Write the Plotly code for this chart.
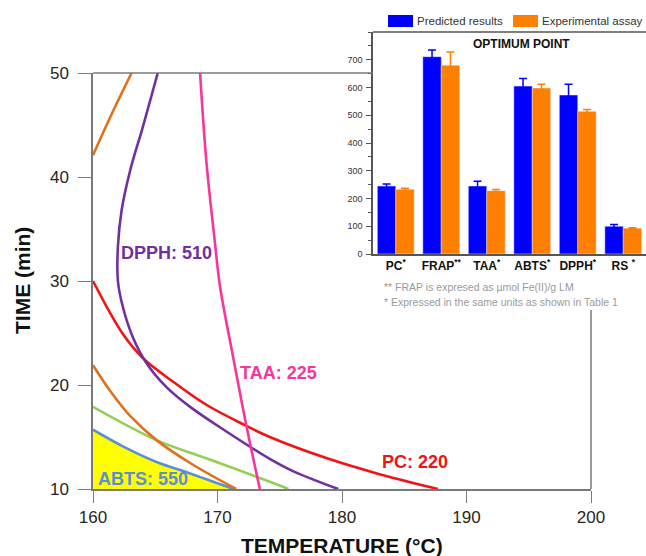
import plotly.graph_objects as go

W, H = 646, 556

# ---------------- main chart data (temperature °C, time min) ----------------
PC_T = [160.0, 162.4, 164.0, 166.45, 169.1, 172.1, 174.2, 178.8, 182.8, 187.7]
PC_t = [30.0, 24.9, 22.6, 20.3, 18.1, 16.2, 15.0, 12.95, 11.5, 10.0]

DPPH_T = [165.2, 164.0, 163.0, 162.3, 162.0, 162.0, 162.4, 163.2, 164.3, 165.9, 167.8, 170.5, 174.2, 176.1, 179.7]
DPPH_t = [50.0, 44.8, 40.7, 36.8, 33.3, 30.0, 27.5, 24.6, 22.1, 19.8, 17.9, 15.7, 12.9, 11.7, 10.0]

TAA_T = [168.6, 169.1, 169.8, 170.2, 171.3, 172.3, 173.4]
TAA_t = [50.0, 41.6, 33.6, 29.5, 22.4, 16.2, 10.0]

FRAP_UP_T = [160.0, 161.4, 163.1]
FRAP_UP_t = [42.1, 45.8, 50.0]
FRAP_LO_T = [160.0, 161.4, 163.0, 165.1, 167.8, 171.5]
FRAP_LO_t = [21.9, 19.4, 17.0, 14.7, 12.5, 10.0]

DNS_T = [160.0, 165.1, 169.1, 174.2, 175.7]
DNS_t = [17.9, 14.7, 12.95, 10.7, 10.0]

ABTS_T = [160.0, 162.4, 165.1, 167.8, 171.3]
ABTS_t = [15.7, 14.1, 12.6, 11.5, 10.0]

X_TICKS = [160, 170, 180, 190, 200]
Y_TICKS = [10, 20, 30, 40, 50]

# ---------------- inset data ----------------
CATS = ["PC", "FRAP", "TAA", "ABTS", "DPPH", "RS"]
CAT_LABELS = ["PC<sup>*</sup>", "FRAP<sup>**</sup>", "TAA<sup>*</sup>",
              "ABTS<sup>*</sup>", "DPPH<sup>*</sup>", "RS <sup>*</sup>"]
PRED = [245, 711, 245, 605, 573, 100]
PRED_ERR = [7, 24, 17, 27, 39, 6]
EXPT = [233, 680, 228, 598, 514, 93]
EXPT_ERR = [4, 48, 4, 14, 7, 2]

C_PC = "#f01414"
C_DPPH = "#7030a0"
C_TAA = "#f5379b"
C_FRAP = "#e0701a"
C_DNS = "#92cf52"
C_ABTS = "#5b8fd4"
C_BLUE = "#0000ff"
C_ORANGE = "#ff8000"
AX = "#7a7a7a"
FONT = "Liberation Sans, Arial, sans-serif"

fig = go.Figure()

def curve(x, y, color, **kw):
    fig.add_trace(go.Scatter(x=x, y=y, mode="lines",
                             line=dict(color=color, width=2.6, shape="spline", smoothing=1.0),
                             hoverinfo="skip", showlegend=False, xaxis="x", yaxis="y", **kw))

curve(ABTS_T, ABTS_t, C_ABTS, fill="tozeroy", fillcolor="#ffff00")
curve(DNS_T, DNS_t, C_DNS)
curve(FRAP_LO_T, FRAP_LO_t, C_FRAP)
curve(FRAP_UP_T, FRAP_UP_t, C_FRAP)
curve(PC_T, PC_t, C_PC)
curve(DPPH_T, DPPH_t, C_DPPH)
curve(TAA_T, TAA_t, C_TAA)

# inset bars
fig.add_trace(go.Bar(x=CATS, y=PRED, name="Predicted results", marker_color=C_BLUE,
                     error_y=dict(type="data", array=PRED_ERR, color=C_BLUE, thickness=1.5, width=4),
                     xaxis="x2", yaxis="y2", showlegend=False))
fig.add_trace(go.Bar(x=CATS, y=EXPT, name="Experimental assay", marker_color=C_ORANGE,
                     error_y=dict(type="data", array=EXPT_ERR, color=C_ORANGE, thickness=1.5, width=4),
                     xaxis="x2", yaxis="y2", showlegend=False))

xd = [93 / W, 591 / W]
yd = [(H - 489) / H, (H - 73) / H]

fig.update_layout(
    width=W, height=H,
    margin=dict(l=0, r=0, t=0, b=0),
    paper_bgcolor="white", plot_bgcolor="rgba(0,0,0,0)",
    font=dict(family=FONT, color="#262626"),
    barmode="group", bargap=0.19, bargroupgap=0,
    showlegend=False,
    xaxis=dict(domain=xd, range=[160, 200], tickvals=X_TICKS, ticks="outside", ticklen=12,
               tickcolor=AX, tickwidth=1.3, showline=True, linecolor=AX, linewidth=1.5,
               showgrid=False, zeroline=False, tickfont=dict(size=17, color="#262626"),
               automargin=False, anchor="y"),
    yaxis=dict(domain=yd, range=[10, 50], tickvals=Y_TICKS, ticks="outside", ticklen=13,
               tickcolor=AX, tickwidth=1.3, showline=True, linecolor=AX, linewidth=1.5,
               showgrid=False, zeroline=False, tickfont=dict(size=17, color="#262626"),
               automargin=False, anchor="x", ticklabelstandoff=6),
    xaxis2=dict(domain=[373 / W, 1.0], range=[-0.5, 5.5], anchor="y2", type="category",
                tickvals=CATS, ticktext=CAT_LABELS, ticks="", showline=True, linecolor="#555",
                linewidth=1.5, showgrid=False, zeroline=False,
                tickfont=dict(size=12, color="#111", family=FONT, weight="bold"),
                automargin=False, ticklabelstandoff=0),
    yaxis2=dict(domain=[(H - 254) / H, (H - 32) / H], range=[0, 800], anchor="x2",
                tickvals=[0, 100, 200, 300, 400, 500, 600, 700], ticks="outside", ticklen=5,
                tickcolor="#555", showline=True, linecolor="#555", linewidth=1.5,
                showgrid=False, zeroline=False, tickfont=dict(size=9, color="#333"),
                minor=dict(dtick=50, ticks="outside", ticklen=3, tickcolor="#555"),
                automargin=False, ticklabelstandoff=2),
)

shapes = [
    # main frame top (up to inset) and right (below inset)
    dict(type="line", xref="paper", yref="paper", x0=93 / W, x1=373 / W,
         y0=(H - 73) / H, y1=(H - 73) / H, line=dict(color=AX, width=1.5)),
    dict(type="line", xref="paper", yref="paper", x0=591 / W, x1=591 / W,
         y0=(H - 489) / H, y1=(H - 310) / H, line=dict(color=AX, width=1.5)),
    # inset top border
    dict(type="line", xref="paper", yref="paper", x0=373 / W, x1=1.0,
         y0=(H - 32) / H, y1=(H - 32) / H, line=dict(color="#555", width=1.5)),
    # legend swatches
    dict(type="rect", xref="paper", yref="paper", x0=388 / W, x1=413 / W,
         y0=(H - 27) / H, y1=(H - 15) / H, fillcolor=C_BLUE, line=dict(width=0)),
    dict(type="rect", xref="paper", yref="paper", x0=513 / W, x1=538 / W,
         y0=(H - 27) / H, y1=(H - 15) / H, fillcolor=C_ORANGE, line=dict(width=0)),
]
fig.update_layout(shapes=shapes)

ann = []
def lab(text, x, y, color, size=18):
    ann.append(dict(text=f"<b>{text}</b>", x=x, y=y, xref="x", yref="y", showarrow=False,
                    font=dict(size=size, color=color, family=FONT), xanchor="center", yanchor="middle"))

lab("FRAP:0.65", 166.8, 51.25, C_FRAP)
lab("DPPH: 510", 165.9, 32.7, C_DPPH)
lab("TAA: 225", 174.9, 21.15, C_TAA)
lab("DNS: 87", 156.9, 17.3, C_DNS)
lab("ABTS: 550", 164.0, 10.96, C_ABTS)
lab("PC: 220", 185.9, 12.6, C_PC)

def pann(text, px, py, size, color="#262626", xanchor="center", bold=False, angle=0):
    ann.append(dict(text=(f"<b>{text}</b>" if bold else text), x=px / W, y=1 - py / H,
                    xref="paper", yref="paper", showarrow=False, textangle=angle,
                    font=dict(size=size, color=color, family=FONT),
                    xanchor=xanchor, yanchor="middle"))

pann("TEMPERATURE (°C)", 342, 545, 21, "#111", bold=True)
pann("TIME (min)", 22, 281, 21, "#111", bold=True, angle=-90)
pann("OPTIMUM POINT", 521, 44, 12, "#111", bold=True)
pann("Predicted results", 415, 21, 11.5, "#333", xanchor="left")
pann("Experimental assay", 540, 21, 11.5, "#333", xanchor="left")
pann("** FRAP is expresed as µmol Fe(II)/g LM", 382, 287, 10.5, "#9a9a9a", xanchor="left")
pann("* Expressed in the same units as shown in Table 1", 382, 302, 10.5, "#9a9a9a", xanchor="left")

fig.update_layout(annotations=ann)

fig.write_html("out.html", config={"displayModeBar": False},
               post_script="document.body.style.margin='0';document.body.style.overflow='hidden';")
